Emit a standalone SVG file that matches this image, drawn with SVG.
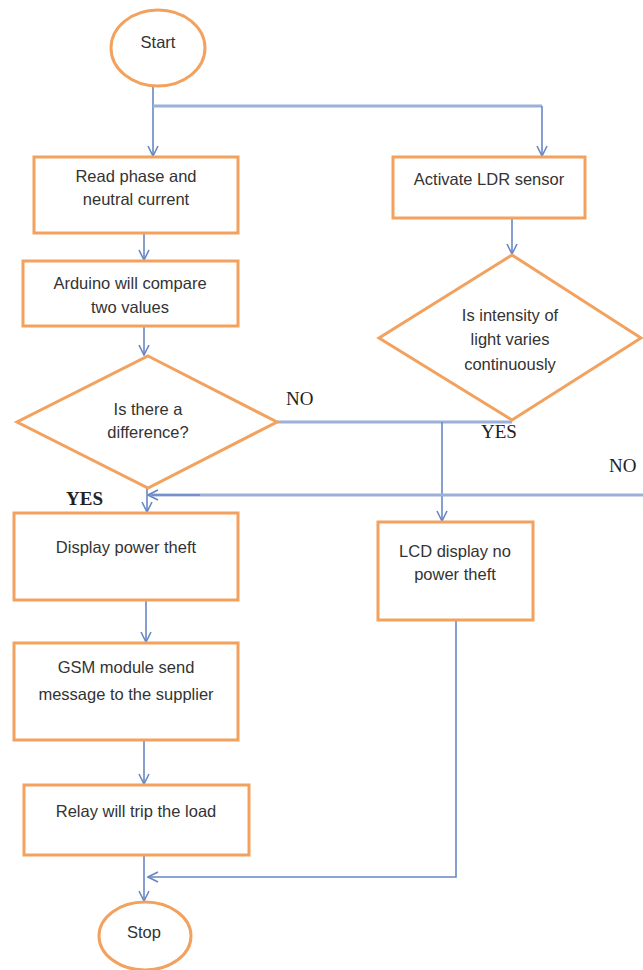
<svg xmlns="http://www.w3.org/2000/svg" width="643" height="970" viewBox="0 0 643 970">
<defs>
<style>
.n{fill:#fff;stroke:#F2A25E;stroke-width:3}
.t{font-family:"Liberation Sans",Arial,sans-serif;font-size:16.5px;fill:#333;text-anchor:middle}
.l{font-family:"Liberation Serif","Times New Roman",serif;font-size:19px;fill:#222}
.c{fill:none;stroke:#6787C4;stroke-width:1.6}
.h{fill:none;stroke:#9AB0D8;stroke-width:3}
</style>
<marker id="a" viewBox="0 0 12 12" refX="11" refY="6" markerWidth="12" markerHeight="12" markerUnits="userSpaceOnUse" orient="auto">
<path d="M1,1 L11,6 L1,11" fill="none" stroke="#6787C4" stroke-width="1.6"/>
</marker>
</defs>
<rect width="643" height="970" fill="#fff"/>
<g id="connectors">
<path class="c" d="M153,86 V156" marker-end="url(#a)"/>
<path class="h" d="M153,106 H542"/>
<path class="c" d="M542,106 V156" marker-end="url(#a)"/>
<path class="c" d="M144,233 V260" marker-end="url(#a)"/>
<path class="c" d="M144,327 V355" marker-end="url(#a)"/>
<path class="c" d="M512,218 V254" marker-end="url(#a)"/>
<path class="h" d="M277,422 H512"/>
<path class="c" d="M442,422 V521" marker-end="url(#a)"/>
<path class="h" d="M643,495 H152"/>
<path class="c" d="M200,495 H148" marker-end="url(#a)"/>
<path class="c" d="M147,488 V512" marker-end="url(#a)"/>
<path class="c" d="M146,600 V642" marker-end="url(#a)"/>
<path class="c" d="M144,740 V784" marker-end="url(#a)"/>
<path class="c" d="M144,855 V901" marker-end="url(#a)"/>
<path class="c" d="M456,620 V877 H148" marker-end="url(#a)"/>
</g>
<g id="start"><ellipse class="n" cx="158" cy="48" rx="47" ry="38"/><text class="t" x="158" y="48">Start</text></g>
<g id="read"><rect class="n" x="34" y="157" width="204" height="76"/><text class="t" x="136" y="182">Read phase and</text><text class="t" x="136" y="205">neutral current</text></g>
<g id="ldr"><rect class="n" x="393" y="157" width="192" height="61"/><text class="t" x="489" y="185">Activate LDR sensor</text></g>
<g id="compare"><rect class="n" x="23" y="261" width="215" height="65"/><text class="t" x="130" y="289">Arduino will compare</text><text class="t" x="130" y="313">two values</text></g>
<g id="diff"><polygon class="n" points="148,356 277,422 148,488 17,422"/><text class="t" x="148" y="415">Is there a</text><text class="t" x="148" y="438">difference?</text></g>
<g id="light"><polygon class="n" points="512,255 641,338 512,420 379,338"/><text class="t" x="510" y="321">Is intensity of</text><text class="t" x="510" y="345">light varies</text><text class="t" x="510" y="370">continuously</text></g>
<g id="labels">
<text class="l" x="286" y="405">NO</text>
<text class="l" x="481" y="438">YES</text>
<text class="l" x="609" y="472">NO</text>
<text class="l" x="66" y="505" font-weight="bold">YES</text>
</g>
<g id="theft"><rect class="n" x="14" y="513" width="224" height="87"/><text class="t" x="126" y="553">Display power theft</text></g>
<g id="lcd"><rect class="n" x="378" y="522" width="155" height="98"/><text class="t" x="455" y="557">LCD display no</text><text class="t" x="455" y="580">power theft</text></g>
<g id="gsm"><rect class="n" x="14" y="643" width="224" height="97"/><text class="t" x="126" y="673">GSM module send</text><text class="t" x="126" y="700">message to the supplier</text></g>
<g id="relay"><rect class="n" x="24" y="785" width="225" height="70"/><text class="t" x="136" y="817">Relay will trip the load</text></g>
<g id="stop"><ellipse class="n" cx="145" cy="936" rx="46" ry="34"/><text class="t" x="144" y="938">Stop</text></g>
</svg>
